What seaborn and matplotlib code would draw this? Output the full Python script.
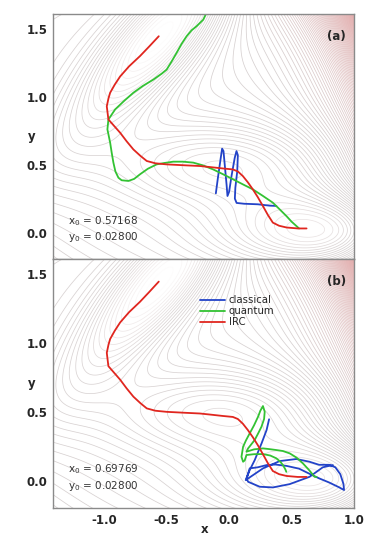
import numpy as np
import pandas as pd
import matplotlib
matplotlib.use("Agg")
import matplotlib.pyplot as plt
from matplotlib.colors import LinearSegmentedColormap, Normalize
import seaborn as sns

# Mueller-Brown potential parameters (background surface)
mb_A = [-200, -100, -170, 15]
mb_a = [-1, -1, -6.5, 0.7]
mb_b = [0, 0, 11, 0.6]
mb_c = [-10, -10, -6.5, 0.7]
mb_x0 = [1, 0, -0.5, -1]
mb_y0 = [0, 0.5, 1.5, 1]

# IRC path (same in both panels)
irc_x = [0.62, 0.55, 0.46, 0.40, 0.35, 0.31, 0.27, 0.23, 0.19, 0.15, 0.11, 0.07, 0.03, -0.05, -0.15,
         -0.234, -0.35, -0.50, -0.59, -0.659, -0.71, -0.766, -0.82, -0.872, -0.92, -0.966, -0.979,
         -0.965, -0.952, -0.915, -0.872, -0.80, -0.713, -0.64, -0.563]
irc_y = [0.03, 0.03, 0.037, 0.05, 0.073, 0.13, 0.196, 0.26, 0.318, 0.37, 0.416, 0.45, 0.465, 0.472, 0.482,
         0.49, 0.495, 0.502, 0.51, 0.527, 0.565, 0.612, 0.672, 0.735, 0.785, 0.833, 0.93,
         0.99, 1.03, 1.09, 1.15, 1.225, 1.30, 1.37, 1.446]

# panel (a)
qa_x = [0.56, 0.50, 0.458, 0.40, 0.35, 0.27, 0.19, 0.11, 0.032, -0.05, -0.128, -0.21, -0.287, -0.37,
        -0.447, -0.52, -0.58, -0.65, -0.713, -0.76, -0.806, -0.86, -0.886, -0.91, -0.926, -0.94, -0.952,
        -0.974, -0.966, -0.912, -0.84, -0.766, -0.69, -0.606, -0.54, -0.50, -0.46, -0.42, -0.38, -0.34,
        -0.30, -0.26, -0.207, -0.18]
qa_y = [0.03, 0.08, 0.122, 0.175, 0.22, 0.27, 0.318, 0.355, 0.392, 0.43, 0.465, 0.495, 0.515, 0.522,
        0.522, 0.512, 0.502, 0.47, 0.429, 0.395, 0.38, 0.385, 0.404, 0.45, 0.515, 0.59, 0.662,
        0.76, 0.833, 0.907, 0.97, 1.03, 1.08, 1.127, 1.17, 1.20, 1.26, 1.324, 1.39, 1.446,
        1.49, 1.52, 1.568, 1.62]
ca_x = [-0.106, -0.09, -0.07, -0.056, -0.045, -0.035, -0.02, -0.013, 0.0, 0.02, 0.045, 0.059, 0.07,
        0.065, 0.05, 0.046, 0.06, 0.12, 0.23, 0.325, 0.378]
ca_y = [0.289, 0.40, 0.53, 0.618, 0.60, 0.50, 0.35, 0.269, 0.30, 0.42, 0.55, 0.60, 0.57,
        0.45, 0.33, 0.25, 0.218, 0.212, 0.208, 0.198, 0.196]

# panel (b)
qb_x = [0.70, 0.684, 0.64, 0.591, 0.54, 0.485, 0.43, 0.378, 0.32, 0.271, 0.20, 0.139, 0.152, 0.205,
        0.235, 0.259, 0.28, 0.285, 0.271, 0.25, 0.232, 0.20, 0.165, 0.135, 0.112, 0.099, 0.112, 0.125,
        0.139, 0.20, 0.271, 0.33, 0.378, 0.41, 0.431, 0.45, 0.458]
qb_y = [0.03, 0.031, 0.08, 0.128, 0.17, 0.201, 0.218, 0.225, 0.232, 0.237, 0.23, 0.213, 0.237, 0.298,
        0.35, 0.394, 0.45, 0.503, 0.544, 0.51, 0.467, 0.405, 0.346, 0.295, 0.249, 0.176, 0.14, 0.15,
        0.189, 0.195, 0.196, 0.185, 0.165, 0.14, 0.116, 0.085, 0.067]
cb_x = [0.32, 0.30, 0.26, 0.205, 0.165, 0.133, 0.17, 0.271, 0.405, 0.538, 0.644, 0.72, 0.80, 0.85,
        0.89, 0.915, 0.92, 0.88, 0.80, 0.72, 0.65, 0.56, 0.46, 0.37, 0.30, 0.23, 0.165, 0.14, 0.152,
        0.245, 0.351, 0.485, 0.644, 0.75, 0.83]
cb_y = [0.448, 0.37, 0.274, 0.152, 0.08, 0.007, 0.03, 0.092, 0.145, 0.16, 0.14, 0.118, 0.118, 0.10,
        0.05, -0.02, -0.065, -0.045, -0.01, 0.02, 0.05, 0.09, 0.11, 0.12, 0.116, 0.10, 0.092, 0.02, -0.005,
        -0.041, -0.046, -0.022, 0.031, 0.10, 0.116]

panel_labels = ["(a)", "(b)"]
x0_labels = ["0.57168", "0.69769"]
y0_labels = ["0.02800", "0.02800"]
xticks = [-1.0, -0.5, 0.0, 0.5, 1.0]
yticks = [0.0, 0.5, 1.0, 1.5]

sns.set_theme(style="white")
plt.rcParams["font.family"] = ["DejaVu Sans"]

fig = plt.figure(figsize=(3.65, 5.38), dpi=100)
ax_a = fig.add_axes([0.145, 0.5186, 0.825, 0.4554])
ax_b = fig.add_axes([0.145, 0.0558, 0.825, 0.4628])

gx = np.linspace(-1.5, 1.1, 500)
gy = np.linspace(-0.3, 1.7, 500)
GX, GY = np.meshgrid(gx, gy)
V = np.zeros_like(GX)
for A, a, b, c, xx, yy in zip(mb_A, mb_a, mb_b, mb_c, mb_x0, mb_y0):
    V += A * np.exp(a * (GX - xx) ** 2 + b * (GX - xx) * (GY - yy) + c * (GY - yy) ** 2)

levels = np.arange(-142, 900, 8)
cmap = LinearSegmentedColormap.from_list(
    "pes", [(0.0, "#ffffff"), (0.03, "#f0eaea"), (0.08, "#dad4d4"), (0.2, "#d6d0d0"),
            (0.35, "#e2c6c6"), (1.0, "#e49a9a")])
norm = Normalize(vmin=-150, vmax=900)

blue = "#2343c8"
green = "#33c233"
red = "#e0261f"

datasets = [(ca_x, ca_y, qa_x, qa_y), (cb_x, cb_y, qb_x, qb_y)]

for i, ax in enumerate([ax_a, ax_b]):
    ax.contour(GX, GY, V, levels=levels, cmap=cmap, norm=norm, linewidths=0.55)
    cx, cy, qx, qy = datasets[i]
    sns.lineplot(x=cx, y=cy, sort=False, estimator=None, color=blue, lw=1.3, ax=ax, label="classical")
    sns.lineplot(x=qx, y=qy, sort=False, estimator=None, color=green, lw=1.3, ax=ax, label="quantum")
    sns.lineplot(x=irc_x, y=irc_y, sort=False, estimator=None, color=red, lw=1.3, ax=ax, label="IRC")
    ax.set_xlim(-1.41, 1.0)
    ax.set_ylim(-0.195, 1.61)
    ax.set_xticks(xticks)
    ax.set_yticks(yticks)
    ax.set_yticklabels([f"{v:.1f}" for v in yticks], fontsize=8.5, fontweight="bold")
    ax.tick_params(axis="x", direction="in", length=3, width=0.8, color="#888888", pad=4)
    ax.tick_params(axis="y", direction="out", length=3, width=0.8, color="#888888", pad=1)
    for s in ax.spines.values():
        s.set_color("#8a8a8a")
        s.set_linewidth(1.0)
    ax.set_ylabel("y", fontsize=8.5, fontweight="bold", rotation=0, va="center", ha="center")
    ax.yaxis.set_label_coords(-0.07, 0.5)
    ax.text(0.935, 1.445, panel_labels[i], fontsize=8.5, fontweight="bold", ha="right", va="center")
    ax.text(-1.29, 0.085, "x$_0$ = " + x0_labels[i], fontsize=7.5, color="#333333", va="center")
    ax.text(-1.29, -0.035, "y$_0$ = " + y0_labels[i], fontsize=7.5, color="#333333", va="center")
    if i == 0:
        ax.get_legend().remove()
        ax.set_xticklabels([])
    else:
        ax.set_xticklabels([f"{v:.1f}" for v in xticks], fontsize=8.5, fontweight="bold")
        ax.set_xlabel("x", fontsize=8.5, fontweight="bold")
        ax.xaxis.set_label_coords(0.505, -0.06)
        ax.legend(loc="upper left", bbox_to_anchor=(0.47, 0.875), frameon=False, fontsize=7.3,
                  handlelength=2.5, handletextpad=0.4, labelspacing=0.1, borderpad=0)

fig.savefig("out.png", dpi=100)
